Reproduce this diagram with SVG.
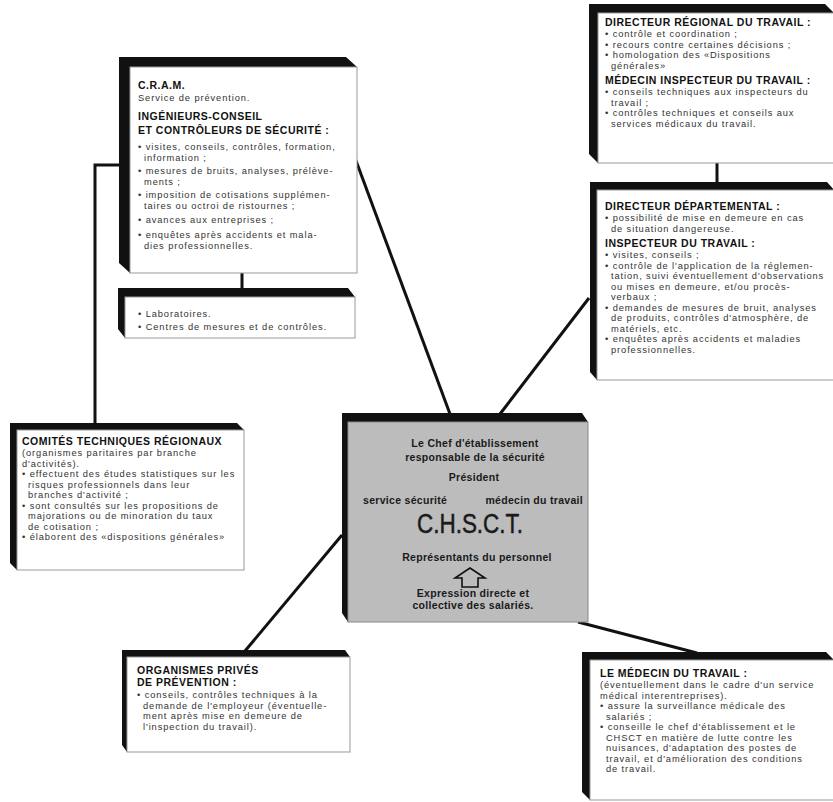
<svg xmlns="http://www.w3.org/2000/svg" width="833" height="802" viewBox="0 0 833 802">
<style>
.bev{fill:#111}
.face{fill:#fff;stroke:#999;stroke-width:1}
.gface{fill:#bcbcbc;stroke:#888;stroke-width:1}
.h{font-family:"Liberation Sans",Arial,sans-serif;font-weight:bold;font-size:10.5px;letter-spacing:0.5px;fill:#111}
.b{font-family:"Liberation Sans",Arial,sans-serif;font-size:9.3px;letter-spacing:0.9px;fill:#333}
.c{font-family:"Liberation Sans",Arial,sans-serif;font-weight:bold;font-size:10.5px;letter-spacing:0.3px;fill:#1a1a1a;text-anchor:middle}
.conn{stroke:#111;stroke-width:3;fill:none}
</style>
<rect width="833" height="802" fill="#fff"/>
<g id="connectors">
<path class="conn" d="M242,273 V289" stroke-width="4"/>
<path class="conn" d="M717,163 V183" stroke-width="4"/>
<path class="conn" d="M121,165 H95 V424"/>
<path class="conn" d="M355,158 L450,414"/>
<path class="conn" d="M589,298 L500,414"/>
<path class="conn" d="M342,535 L245,651"/>
<path class="conn" d="M578,622 L697,653"/>
</g>
<g id="cram">
<polygon class="bev" points="119,57 346,57 357,67 130,67 130,273 119,263"/>
<rect class="face" x="130" y="67" width="227" height="206"/>
<text class="h" x="138" y="89">C.R.A.M.</text>
<text class="b" x="138" y="101">Service de prévention.</text>
<text class="h" x="138" y="120">INGÉNIEURS-CONSEIL</text>
<text class="h" x="138" y="134">ET CONTRÔLEURS DE SÉCURITÉ :</text>
<text class="b" x="138" y="150">• visites, conseils, contrôles, formation,</text>
<text class="b" x="144" y="161">information ;</text>
<text class="b" x="138" y="174">• mesures de bruits, analyses, prélève-</text>
<text class="b" x="144" y="185">ments ;</text>
<text class="b" x="138" y="198">• imposition de cotisations supplémen-</text>
<text class="b" x="144" y="209">taires ou octroi de ristournes ;</text>
<text class="b" x="138" y="223">• avances aux entreprises ;</text>
<text class="b" x="138" y="238">• enquêtes après accidents et mala-</text>
<text class="b" x="144" y="249">dies professionnelles.</text>
</g>
<g id="labos">
<polygon class="bev" points="118,288 348,288 355,297 125,297 125,338 118,329"/>
<rect class="face" x="125" y="297" width="230" height="41"/>
<text class="b" x="138" y="317">• Laboratoires.</text>
<text class="b" x="138" y="330">• Centres de mesures et de contrôles.</text>
</g>
<g id="dir-regional">
<polygon class="bev" points="589,4 825,4 834,13 598,13 598,163 589,154"/>
<rect class="face" x="598" y="13" width="236" height="150"/>
<text class="h" x="605" y="26">DIRECTEUR RÉGIONAL DU TRAVAIL :</text>
<text class="b" x="605" y="37">• contrôle et coordination ;</text>
<text class="b" x="605" y="47.5">• recours contre certaines décisions ;</text>
<text class="b" x="605" y="58">• homologation des «Dispositions</text>
<text class="b" x="611" y="68.5">générales»</text>
<text class="h" x="605" y="84">MÉDECIN INSPECTEUR DU TRAVAIL :</text>
<text class="b" x="605" y="95">• conseils techniques aux inspecteurs du</text>
<text class="b" x="611" y="105.5">travail ;</text>
<text class="b" x="605" y="116">• contrôles techniques et conseils aux</text>
<text class="b" x="611" y="126.5">services médicaux du travail.</text>
</g>
<g id="dir-departemental">
<polygon class="bev" points="590,182 827,182 834,190 597,190 597,380 590,372"/>
<rect class="face" x="597" y="190" width="237" height="190"/>
<text class="h" x="605" y="210">DIRECTEUR DÉPARTEMENTAL :</text>
<text class="b" x="605" y="221">• possibilité de mise en demeure en cas</text>
<text class="b" x="611" y="231.5">de situation dangereuse.</text>
<text class="h" x="605" y="247">INSPECTEUR DU TRAVAIL :</text>
<text class="b" x="605" y="258">• visites, conseils ;</text>
<text class="b" x="605" y="268.5">• contrôle de l'application de la réglemen-</text>
<text class="b" x="611" y="279">tation, suivi éventuellement d'observations</text>
<text class="b" x="611" y="289.5">ou mises en demeure, et/ou procès-</text>
<text class="b" x="611" y="300">verbaux ;</text>
<text class="b" x="605" y="310.5">• demandes de mesures de bruit, analyses</text>
<text class="b" x="611" y="321">de produits, contrôles d'atmosphère, de</text>
<text class="b" x="611" y="331.5">matériels, etc.</text>
<text class="b" x="605" y="342">• enquêtes après accidents et maladies</text>
<text class="b" x="611" y="352.5">professionnelles.</text>
</g>
<g id="comites">
<polygon class="bev" points="10,423 237,423 244,430 17,430 17,570 10,563"/>
<rect class="face" x="17" y="430" width="227" height="140"/>
<text class="h" x="22" y="445">COMITÉS TECHNIQUES RÉGIONAUX</text>
<text class="b" x="22" y="456">(organismes paritaires par branche</text>
<text class="b" x="22" y="466.5">d'activités).</text>
<text class="b" x="22" y="477">• effectuent des études statistiques sur les</text>
<text class="b" x="28" y="487.5">risques professionnels dans leur</text>
<text class="b" x="28" y="498">branches d'activité ;</text>
<text class="b" x="22" y="508.5">• sont consultés sur les propositions de</text>
<text class="b" x="28" y="519">majorations ou de minoration du taux</text>
<text class="b" x="28" y="529.5">de cotisation ;</text>
<text class="b" x="22" y="540">• élaborent des «dispositions générales»</text>
</g>
<g id="chsct">
<polygon class="bev" points="342,413 582,413 588,422 348,422 348,622 342,613"/>
<rect class="gface" x="348" y="422" width="240" height="200"/>
<text class="c" x="475" y="447">Le Chef d'établissement</text>
<text class="c" x="475" y="461">responsable de la sécurité</text>
<text class="c" x="474" y="481">Président</text>
<text class="c" x="363" y="504" style="text-anchor:start">service sécurité</text>
<text class="c" x="583" y="504" style="text-anchor:end">médecin du travail</text>
<text class="c" x="470" y="533" style="font-weight:normal;font-size:27px;letter-spacing:0;stroke:#1a1a1a;stroke-width:0.5" textLength="106" lengthAdjust="spacingAndGlyphs">C.H.S.C.T.</text>
<text class="c" x="477" y="561">Représentants du personnel</text>
<polygon points="470,568 485,578 478,578 478,587 462,587 462,578 455,578" fill="none" stroke="#111" stroke-width="1.6"/>
<text class="c" x="473" y="597">Expression directe et</text>
<text class="c" x="473" y="609">collective des salariés.</text>
</g>
<g id="organismes-prives">
<polygon class="bev" points="122,650 345,650 350,657 127,657 127,752 122,745"/>
<rect class="face" x="127" y="657" width="223" height="95"/>
<text class="h" x="137" y="674">ORGANISMES PRIVÉS</text>
<text class="h" x="137" y="686">DE PRÉVENTION :</text>
<text class="b" x="137" y="698">• conseils, contrôles techniques à la</text>
<text class="b" x="143" y="708.5">demande de l'employeur (éventuelle-</text>
<text class="b" x="143" y="719">ment après mise en demeure de</text>
<text class="b" x="143" y="729.5">l'inspection du travail).</text>
</g>
<g id="medecin-du-travail">
<polygon class="bev" points="582,652 826,652 834,660 590,660 590,800 582,792"/>
<rect class="face" x="590" y="660" width="244" height="140"/>
<text class="h" x="600" y="677">LE MÉDECIN DU TRAVAIL :</text>
<text class="b" x="600" y="688">(éventuellement dans le cadre d'un service</text>
<text class="b" x="600" y="698.5">médical interentreprises).</text>
<text class="b" x="600" y="709">• assure la surveillance médicale des</text>
<text class="b" x="606" y="719.5">salariés ;</text>
<text class="b" x="600" y="730">• conseille le chef d'établissement et le</text>
<text class="b" x="606" y="740.5">CHSCT en matière de lutte contre les</text>
<text class="b" x="606" y="751">nuisances, d'adaptation des postes de</text>
<text class="b" x="606" y="761.5">travail, et d'amélioration des conditions</text>
<text class="b" x="606" y="772">de travail.</text>
</g>
</svg>
